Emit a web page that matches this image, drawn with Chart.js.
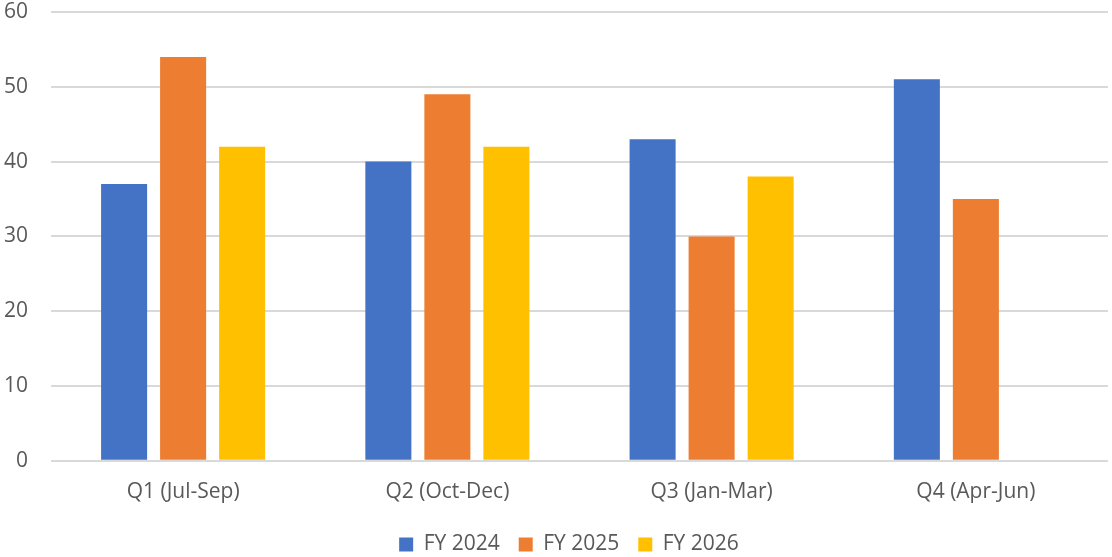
<!DOCTYPE html>
<html>
<head>
<meta charset="utf-8">
<script src="https://cdn.jsdelivr.net/npm/chart.js@4.4.1/dist/chart.umd.min.js"></script>
<style>
  html, body { margin: 0; padding: 0; background: #fff; }
  #wrap { width: 1112px; height: 557px; position: relative; }
</style>
</head>
<body>
<div id="wrap"><canvas id="myChart"></canvas></div>
<script>
const categories = ['Q1 (Jul-Sep)', 'Q2 (Oct-Dec)', 'Q3 (Jan-Mar)', 'Q4 (Apr-Jun)'];
const seriesNames = ['FY 2024', 'FY 2025', 'FY 2026'];
const fy2024 = [37, 40, 43, 51];
const fy2025 = [54, 49, 30, 35];
const fy2026 = [42, 42, 38, null];
const yTicks = [0, 10, 20, 30, 40, 50, 60];

const colors = ['#4472C4', '#ED7D31', '#FFC000'];
const textColor = '#595959';
const fontFamily = "'Open Sans', 'Noto Sans', sans-serif";

// nudge the legend a little to the right, like the original
const legendShift = {
    id: 'legendShift',
    afterLayout(chart) {
        chart.legend.left += 15;
        chart.legend.right += 15;
    }
};

const ctx = document.getElementById('myChart').getContext('2d');
const myChart = new Chart(ctx, {
    type: 'bar',
    data: {
        labels: categories,
        datasets: [fy2024, fy2025, fy2026].map((d, i) => ({
            label: seriesNames[i],
            data: d,
            backgroundColor: colors[i],
            borderWidth: 0,
            categoryPercentage: 0.67,
            barPercentage: 0.78
        }))
    },
    options: {
        responsive: true,
        maintainAspectRatio: false,
        animation: false,
        layout: { padding: { left: 0, right: 4, top: 0, bottom: -8 } },
        scales: {
            x: {
                grid: { display: false },
                border: { display: false },
                ticks: { color: textColor, font: { family: fontFamily, size: 21 }, padding: 10.5 }
            },
            y: {
                min: 0,
                max: 60,
                afterBuildTicks: (scale) => { scale.ticks = yTicks.map(v => ({ value: v })); },
                afterFit: (scale) => {
                    scale.width = 51;
                    // keep the tick padding from pushing the plot down
                    scale.paddingTop = 12;
                    scale.paddingBottom = 12;
                },
                grid: { color: '#D9D9D9', lineWidth: 2, drawTicks: false },
                border: { display: false },
                ticks: { color: textColor, font: { family: fontFamily, size: 21 }, padding: 23 }
            }
        },
        plugins: {
            legend: {
                position: 'bottom',
                labels: {
                    color: textColor,
                    font: { family: fontFamily, size: 21 },
                    boxWidth: 14,
                    boxHeight: 14,
                    padding: 19
                }
            },
            tooltip: { enabled: false }
        }
    },
    plugins: [legendShift]
});
</script>
</body>
</html>
